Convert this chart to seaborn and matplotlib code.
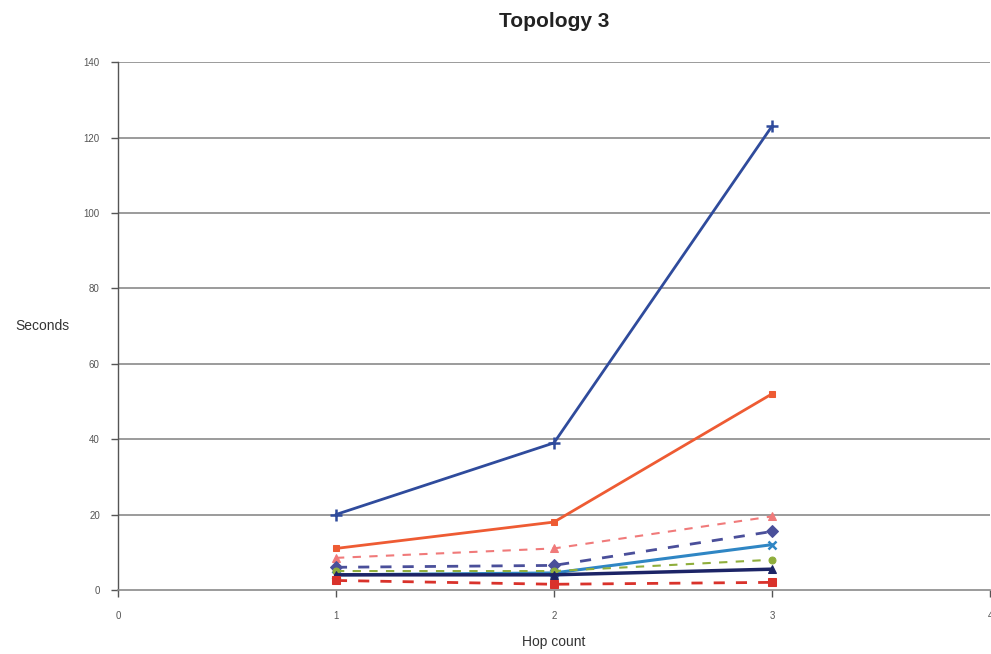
import matplotlib
matplotlib.use("Agg")
import matplotlib.pyplot as plt
import seaborn as sns
import pandas as pd

sns.set_theme(style="white")
plt.rcParams["font.family"] = ["Liberation Sans", "DejaVu Sans"]

hops = [1, 2, 3]

# Measured times (seconds) per hop count for each run
run_a = [20, 39, 123]
run_b = [11, 18, 52]
run_c = [8.5, 11, 19.5]
run_d = [6, 6.5, 15.5]
run_e = [4, 4.5, 12]
run_f = [5, 5, 8]
run_g = [4, 4, 5.5]
run_h = [2.5, 1.5, 2]

y_ticks = [0, 20, 40, 60, 80, 100, 120, 140]
x_ticks = [0, 1, 2, 3, 4]

series = [
    (run_a, dict(color="#2f4b9c", linestyle="-", marker="+", markersize=9, linewidth=2.0, mew=1.8)),
    (run_b, dict(color="#ee5b33", linestyle="-", marker="s", markersize=5, linewidth=2.0)),
    (run_c, dict(color="#f07a7a", linestyle=(0, (4, 4)), marker="^", markersize=6, linewidth=1.5)),
    (run_d, dict(color="#4a4f9a", linestyle=(0, (4, 4)), marker="D", markersize=6, linewidth=2.0)),
    (run_e, dict(color="#2f86c4", linestyle="-", marker="x", markersize=6, linewidth=2.2, mew=1.8)),
    (run_f, dict(color="#8fae3c", linestyle=(0, (4, 4)), marker="o", markersize=5, linewidth=1.5)),
    (run_g, dict(color="#1c2466", linestyle="-", marker="^", markersize=6, linewidth=2.5)),
    (run_h, dict(color="#d9322b", linestyle=(0, (4, 4)), marker="s", markersize=6, linewidth=2.0)),
]

fig = plt.figure(figsize=(9.91, 6.54), dpi=100)
ax = fig.add_axes([0.119, 0.098, 0.880, 0.807])

for y in y_ticks[1:]:
    ax.axhline(y, color="#8a8a8a", linewidth=1.2, zorder=0)

for vals, style in series:
    df = pd.DataFrame({"hops": hops, "seconds": vals})
    sns.lineplot(data=df, x="hops", y="seconds", ax=ax,
                 markeredgecolor=style["color"], **style)

ax.set_xlim(0, 4)
ax.set_ylim(0, 140)
ax.set_xticks(x_ticks)
ax.set_yticks(y_ticks)
ax.set_xticklabels([str(v) for v in x_ticks], fontsize=7, color="#555555")
ax.set_yticklabels([str(v) for v in y_ticks], fontsize=7, color="#555555")

for side in ["top", "right"]:
    ax.spines[side].set_visible(False)
ax.spines["left"].set_color("#555555")
ax.spines["left"].set_linewidth(1.0)
ax.spines["bottom"].set_color("#8a8a8a")
ax.spines["bottom"].set_linewidth(1.2)

ax.tick_params(axis="y", which="major", direction="out", length=5, width=1, color="#555555", pad=8, left=True)
ax.tick_params(axis="x", which="major", direction="out", length=5, width=1, color="#555555", pad=10, bottom=True)

ax.set_xlabel("Hop count", fontsize=10, color="#333333", labelpad=10)
ax.set_ylabel("Seconds", fontsize=10, color="#333333", rotation=0, labelpad=30, va="center")
ax.set_title("Topology 3", fontsize=15, fontweight="bold", color="#222222", pad=25)

fig.savefig("out.png", dpi=100, facecolor="white")
